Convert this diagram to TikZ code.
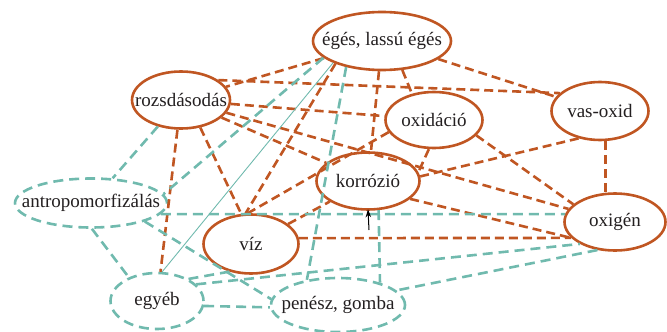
\documentclass[tikz,border=0pt]{standalone}
\usepackage{fontspec}
\setmainfont{Liberation Serif}
\usetikzlibrary{shapes.geometric,arrows.meta}
\definecolor{rust}{RGB}{192,86,34}
\definecolor{tealc}{RGB}{112,186,174}
\definecolor{ink}{RGB}{35,31,32}
\begin{document}
\begin{tikzpicture}[x=1pt,y=-1pt,
  concept/.style={ellipse, draw=rust, line width=2.6pt, fill=white, inner sep=0pt},
  other/.style={ellipse, draw=tealc, line width=2.6pt, dash pattern=on 10pt off 6pt, fill=white, inner sep=0pt},
  lbl/.style={font=\fontsize{19}{21}\selectfont, text=ink, inner sep=0pt},
  oline/.style={draw=rust, line width=2.6pt, dash pattern=on 9pt off 5pt},
  tline/.style={draw=tealc, line width=2.6pt, dash pattern=on 10pt off 6pt},
  thin/.style={draw=tealc, line width=0.9pt},
]
\useasboundingbox (0,0) rectangle (667,332);
% nodes
\node[concept, minimum width=138pt, minimum height=58pt] (eges) at (382,41) {};
\node[concept, minimum width=98pt, minimum height=57pt] (rozs) at (181,100) {};
\node[concept, minimum width=97pt, minimum height=56pt] (oxid) at (434,120) {};
\node[concept, minimum width=97pt, minimum height=58pt] (vasox) at (600,111) {};
\node[concept, minimum width=103pt, minimum height=57pt] (korr) at (368,181) {};
\node[concept, minimum width=101pt, minimum height=57pt] (oxig) at (615,222) {};
\node[concept, minimum width=95pt, minimum height=59pt] (viz) at (251,244) {};
\node[other, minimum width=152pt, minimum height=49pt] (antrop) at (91,203) {};
\node[other, minimum width=93pt, minimum height=56pt] (egyeb) at (157,301) {};
\node[other, minimum width=134pt, minimum height=54pt] (penesz) at (338,305) {};
% labels
\node[lbl] (eges-t) at (eges) {égés, lassú égés};
\node[lbl] (rozs-t) at (rozs) {rozsdásodás};
\node[lbl] (oxid-t) at (oxid) {oxidáció};
\node[lbl] (vasox-t) at (vasox) {vas-oxid};
\node[lbl] (korr-t) at (korr) {korrózió};
\node[lbl] (oxig-t) at (oxig) {oxigén};
\node[lbl] (viz-t) at (viz) {víz};
\node[lbl] (antrop-t) at (antrop) {antropomorfizálás};
\node[lbl] (egyeb-t) at (egyeb) {egyéb};
\node[lbl] (penesz-t) at (penesz) {penész, gomba};
% orange connectors
\draw[oline] (eges) -- (rozs);
\draw[oline] (eges) -- (vasox);
\draw[oline] (rozs.28) -- (vasox.156);
\draw[oline] (eges.-55) -- (oxid.130);
\draw[oline] (eges) -- (korr);
\draw[oline] (eges.206) -- (viz.100);
\draw[oline] (rozs) -- (oxid);
\draw[oline] (rozs) -- (oxig);
\draw[oline] (rozs) -- (korr);
\draw[oline] (rozs) -- (egyeb);
\draw[oline] (rozs.-55) -- (viz.108);
\draw[oline] (oxid.-100) -- (korr.10);
\draw[oline] (oxid.195) -- (viz.96);
\draw[oline] (oxid.-20) -- (oxig.157);
\draw[oline] (korr.5) -- (vasox.232);
\draw[oline] (korr.-23) -- (oxig.200);
\draw[oline] (viz.7) -- (oxig.200);
\draw[oline] (viz) -- (korr);
\draw[oline] (vasox.-80) -- (vasox.-80 |- oxig.north);
% teal connectors
\draw[tline] (rozs) -- (antrop);
\draw[tline] (eges.196) -- (antrop.7);
\draw[thin] (eges.204) -- (egyeb.80);
\draw[tline] (eges.216) -- (penesz.141);
\draw[tline] (korr.-70) -- (penesz.28);
\draw[tline] (antrop.-9) -- (oxig.171);
\draw[tline] (antrop.-88) -- (egyeb.140);
\draw[tline] (antrop.-19) -- (penesz.175);
\draw[tline] (egyeb.-6) -- (penesz.182);
\draw[tline] (egyeb.23) -- (oxig.212);
\draw[tline] (oxig.238) -- (penesz.14);
\draw[tline] (egyeb.35) -- (viz.232);
% arrow
\coordinate (arrtail) at (369,230);
\draw[-{Stealth[length=8pt,width=5.5pt]}, line width=1pt, black] (arrtail) -- ([yshift=1.5pt]korr.south);
\end{tikzpicture}
\end{document}
